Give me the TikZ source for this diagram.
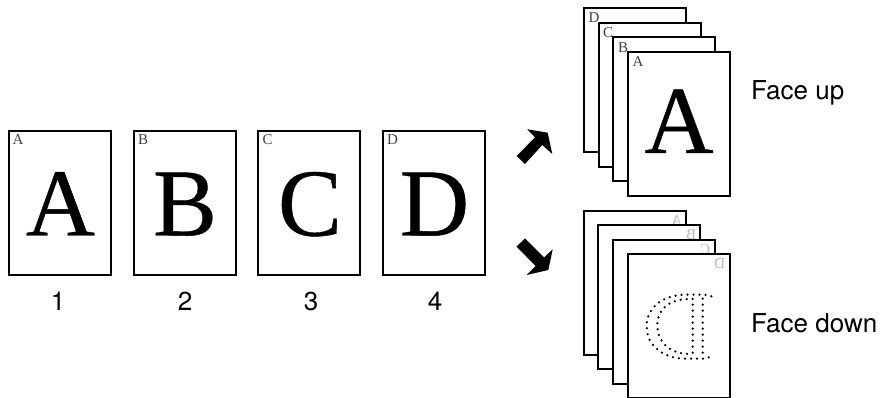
\documentclass[tikz,border=0pt]{standalone}
\usepackage{fontspec}
\setmainfont{Liberation Serif}
\newfontfamily\bigserif[FakeBold=0.4]{Liberation Serif}
\newfontfamily\labelfont{TeX Gyre Heros}
\begin{document}
\begin{tikzpicture}[x=1pt,y=-1pt,
  pagebox/.style={draw=black,fill=white,line width=2pt,minimum width=102pt,minimum height=144pt,inner sep=0pt,outer sep=0pt,anchor=north west},
  bigletter/.style={font=\bigserif\fontsize{96}{96}\selectfont,anchor=base,inner sep=0pt},
  smallletter/.style={font=\fontsize{15}{15}\selectfont,text=black!75,anchor=base west,inner sep=0pt},
  ghostletter/.style={font=\fontsize{15}{15}\selectfont,text=black!28,anchor=base east,inner sep=0pt},
  caption/.style={font=\labelfont\fontsize{26}{26}\selectfont,anchor=base,inner sep=0pt},
  sidelabel/.style={font=\labelfont\fontsize{26}{26}\selectfont,anchor=base west,inner sep=0pt},
  ghostdots/.style={line width=2.5pt,line cap=round,dash pattern=on 0pt off 6pt}]
\useasboundingbox (0,0) rectangle (881,398);
% row of pages
\node[pagebox] (p1) at (9,131) {};
\node[pagebox] (p2) at (134,131) {};
\node[pagebox] (p3) at (258,131) {};
\node[pagebox] (p4) at (383,131) {};
\node[bigletter] (la) at (60.5,235.5) {A};
\node[bigletter] (lb) at (185,235.5) {B};
\node[bigletter] (lc) at (310,235.5) {C};
\node[bigletter] (ld) at (434.5,235.5) {D};
\node[smallletter] (sa) at (12.5,145) {A};
\node[smallletter] (sb) at (138,145) {B};
\node[smallletter] (sc) at (262.5,145) {C};
\node[smallletter] (sd) at (387,145) {D};
\node[caption] (n1) at (58,310) {1};
\node[caption] (n2) at (185,310) {2};
\node[caption] (n3) at (311,310) {3};
\node[caption] (n4) at (435,310) {4};
% face up stack
\node[pagebox] (ud) at (584,8) {};
\node[smallletter] (ld1) at (588.5,23) {D};
\node[pagebox] (uc) at (599,23) {};
\node[smallletter] (lc1) at (603,38) {C};
\node[pagebox] (ub) at (613,37) {};
\node[smallletter] (lb1) at (618,53) {B};
\node[pagebox] (ua) at (628,52) {};
\node[smallletter] (la1) at (632.5,67) {A};
\node[bigletter] (bigup) at (679,153) {A};
\node[sidelabel] (faceup) at (751,100) {Face up};
% face down stack
\node[pagebox] (da) at (584,211) {};
\node[ghostletter,xscale=-1] (ga) at (671,225.5) {A};
\node[pagebox] (db) at (598,225) {};
\node[ghostletter,xscale=-1] (gb) at (686,240) {B};
\node[pagebox] (dc) at (613,240) {};
\node[ghostletter,xscale=-1] (gc) at (700,254.5) {C};
\node[pagebox] (dd) at (628,254) {};
\node[ghostletter,xscale=-1] (gd) at (714,269) {D};
\node[sidelabel] (facedown) at (751,332) {Face down};
% mirrored dotted D
\begin{scope}[shift={(570,200)},x=0.3333pt,y=-0.3333pt]
  \draw[ghostdots] (424,289) -- (405,284) -- (350,284) .. controls (280,284) and (230,320) .. (230,380) .. controls (230,440) and (285,476) .. (345,476) -- (400,476) -- (424,470);
  \draw[ghostdots] (398,296) -- (398,466);
  \draw[ghostdots] (368,314) -- (368,460);
  \draw[ghostdots] (368,297) .. controls (300,295) and (262,325) .. (262,375) .. controls (262,430) and (305,465) .. (368,462);
\end{scope}
% arrows
\fill[black] (527.3,129.3) -- (547.7,132.7) -- (552.3,154) -- (542.3,145) -- (525,164) -- (516.7,156) -- (535,137.3) -- cycle;
\fill[black] (525,238.5) -- (516.5,246.5) -- (535.5,266) -- (526.7,275) -- (548.3,270) -- (552.7,249.3) -- (544,257.5) -- cycle;
\end{tikzpicture}
\end{document}
